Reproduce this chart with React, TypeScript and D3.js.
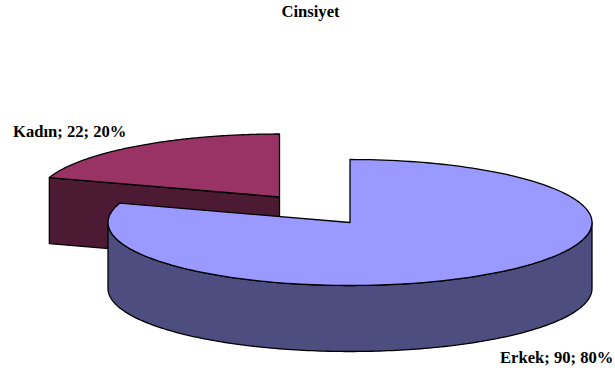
import React from "react";
import * as d3 from "d3";

const categories = ["Erkek", "Kadın"];
const counts = [90, 22];
const percents = [80, 20];
const title = "Cinsiyet";
const topColors = ["#9999ff", "#993366"];
const sideColors = ["#4d4d80", "#4d1a33"];

const WIDTH = 615;
const HEIGHT = 372;
const RX = 242;
const RY = 63;
const DEPTH = 66;
const STROKE = "#000";
const STROKE_WIDTH = 1.3;
const LABEL_SIZE = 16.6;

// Each slice has its own apex because the smaller slice is pulled out of the pie.
const apexes = [
  { x: 350, y: 222.5 },
  { x: 279.5, y: 197 },
];

const slices = d3
  .pie<number>()
  .sort(null)
  .value((d) => d)(percents);

const rim = (apex: { x: number; y: number }, a: number, drop = 0): [number, number] => [
  apex.x + RX * Math.sin(a),
  apex.y - RY * Math.cos(a) + drop,
];

const arcPoints = (apex: { x: number; y: number }, a0: number, a1: number, drop = 0) =>
  d3.range(0, 181).map((i) => rim(apex, a0 + ((a1 - a0) * i) / 180, drop));

const line = d3.line();

const topPath = (i: number) => {
  const s = slices[i];
  const apex = apexes[i];
  return `${line(arcPoints(apex, s.startAngle, s.endAngle))}L${apex.x},${apex.y}Z`;
};

// Outer wall of the large slice, along the front half of its rim.
const frontWall = (i: number) => {
  const apex = apexes[i];
  const a0 = Math.PI / 2;
  const a1 = (3 * Math.PI) / 2;
  const upper = arcPoints(apex, a0, a1);
  const lower = arcPoints(apex, a0, a1, DEPTH).reverse();
  return `${line([...upper, ...lower])}Z`;
};

// Cut face of the pulled-out slice, running from its left rim point to the apex.
const cutFace = (i: number) => {
  const apex = apexes[i];
  const p = rim(apex, slices[i].startAngle);
  const edge: [number, number][] = [
    p,
    [apex.x, apex.y],
    [apex.x, apex.y + DEPTH],
    [p[0], p[1] + DEPTH],
  ];
  return `${line(edge)}Z`;
};

const labelText = (i: number) => `${categories[i]}; ${counts[i]}; ${percents[i]}%`;

const textStyle: React.CSSProperties = {
  fontFamily: "'Liberation Serif', serif",
  fontWeight: 700,
  fill: "#000",
};

export default function App() {
  const shape = { stroke: STROKE, strokeWidth: STROKE_WIDTH, strokeLinejoin: "round" as const };
  return (
    <svg
      width={WIDTH}
      height={HEIGHT}
      viewBox={`0 0 ${WIDTH} ${HEIGHT}`}
      style={{ position: "absolute", left: 0, top: 0, background: "#fff" }}
    >
      <text x={310.5} y={17} textAnchor="middle" fontSize={LABEL_SIZE} style={textStyle}>
        {title}
      </text>

      <path d={cutFace(1)} fill={sideColors[1]} {...shape} />
      <path d={topPath(1)} fill={topColors[1]} {...shape} />
      <path d={frontWall(0)} fill={sideColors[0]} {...shape} />
      <path d={topPath(0)} fill={topColors[0]} {...shape} />

      <text x={13} y={137} fontSize={LABEL_SIZE} style={textStyle}>
        {labelText(1)}
      </text>
      <text x={500} y={363} fontSize={LABEL_SIZE} style={textStyle}>
        {labelText(0)}
      </text>
    </svg>
  );
}
